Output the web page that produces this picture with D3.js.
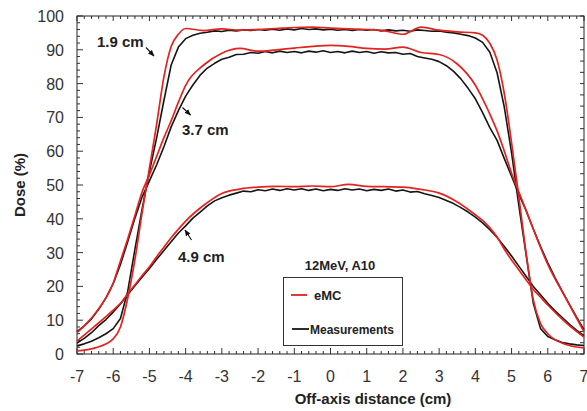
<!DOCTYPE html>
<html>
<head>
<meta charset="utf-8">
<script src="https://cdn.jsdelivr.net/npm/d3@7"></script>
<style>
  html, body { margin: 0; padding: 0; background: #fff; }
  svg { display: block; font-family: "Liberation Sans", Arial, sans-serif; }
</style>
</head>
<body>
<svg id="chart" width="587" height="411"></svg>
<script>
// Off-axis dose profiles, 12 MeV electrons, applicator A10, at three depths.

// Sampling positions (cm) for the smooth eMC (Monte Carlo) profiles
const xEmc = [-7, -6.5, -6, -5.8, -5.6, -5.4, -5.2, -5.0, -4.8, -4.6, -4.4, -4.2, -4.0,
  -3.5, -3, -2.5, -2, -1.5, -1, -0.5, 0, 0.5, 1, 1.5, 2, 2.5, 3, 3.5,
  4.0, 4.2, 4.4, 4.6, 4.8, 5.0, 5.2, 5.4, 5.6, 5.8, 6, 6.5, 7];

const emc19 = [0.9, 1.8, 4.5, 8.0, 16.5, 28, 42, 55, 68, 82, 91, 94.6, 96.3,
  95.7, 96.2, 95.8, 96.0, 96.3, 96.6, 96.7, 96.4, 96.2, 96.0, 95.6, 94.6, 96.7, 95.8, 95.3,
  95.0, 94.3, 91.9, 87, 77, 62.5, 46.5, 30, 16, 9, 6, 2.8, 1.8];

const emc37 = [6.3, 12, 21, 27.5, 34, 41, 48, 53, 58.5, 64, 69, 74.5, 79.5,
  85.5, 89, 90.4, 89.6, 90.0, 90.5, 91.0, 91.3, 91.0, 90.4, 90.2, 90.8, 89.2, 88.6, 85.8,
  79.5, 75.5, 71, 66, 60, 53.5, 48, 42.5, 37, 31.5, 26.5, 16.5, 6.6];

const emc49 = [3.8, 8.3, 13, 15, 17.8, 20.5, 23.2, 25.8, 28.8, 31.6, 34.4, 36.9, 39.3,
  44, 47.5, 48.8, 49.4, 49.6, 49.5, 49.7, 49.5, 50.2, 49.6, 49.5, 49.4, 48.7, 47.6, 45,
  41.2, 39.5, 37.3, 34.6, 31, 27.8, 24.9, 22, 19.1, 16.8, 14.5, 9.3, 5.0];

// Measurement positions (cm), 2 mm spacing
const xMeas = [-7.0, -6.8, -6.6, -6.4, -6.2, -6.0, -5.8, -5.6, -5.4, -5.2, -5.0, -4.8, -4.6, -4.4,
  -4.2, -4.0, -3.8, -3.6, -3.4, -3.2, -3.0, -2.8, -2.6, -2.4, -2.2, -2.0, -1.8, -1.6, -1.4,
  -1.2, -1.0, -0.8, -0.6, -0.4, -0.2, 0.0, 0.2, 0.4, 0.6, 0.8, 1.0, 1.2, 1.4, 1.6, 1.8,
  2.0, 2.2, 2.4, 2.6, 2.8, 3.0, 3.2, 3.4, 3.6, 3.8, 4.0, 4.2, 4.4, 4.6, 4.8, 5.0,
  5.2, 5.4, 5.6, 5.8, 6.0, 6.2, 6.4, 6.6, 6.8, 7.0];

const meas19 = [2.4, 3.0, 3.8, 4.8, 6.0, 7.5, 10.5, 18.5, 31, 43, 54, 64, 75, 85.5,
  90.8, 93.3, 94.3, 94.9, 95.2, 95.6, 95.4, 95.8, 95.6, 95.9, 95.7, 96.0, 95.8, 96.1, 95.8,
  96.2, 95.9, 96.3, 96.0, 96.2, 95.9, 96.1, 95.8, 96.0, 95.7, 96.0, 95.8, 96.0, 95.6, 95.9, 95.6,
  95.8, 95.5, 95.9, 95.7, 95.5, 95.6, 95.2, 95.0, 94.6, 94.2, 93.5, 92.2, 89.3, 83.2, 73, 59.5,
  44, 29.5, 15, 7.5, 5.2, 4.2, 3.4, 3.0, 2.7, 2.5];

const meas37 = [6.6, 8.3, 10.4, 13.2, 16.6, 20.8, 26.5, 33.2, 40.2, 46.5, 51.2, 56.0, 61.3, 67.2,
  72.0, 76.3, 79.6, 82.5, 84.6, 86.0, 87.2, 87.8, 88.6, 88.7, 89.2, 89.0, 89.5, 89.1, 89.6,
  89.2, 89.5, 89.1, 89.6, 89.3, 89.7, 89.2, 89.5, 89.1, 89.6, 89.2, 89.5, 89.0, 89.4, 89.1, 89.2,
  88.7, 88.9, 88.0, 87.6, 87.2, 86.5, 85.3, 83.6, 81.4, 78.6, 75.5, 71.4, 67.0, 63.2, 57.8, 52.6,
  47.3, 42.5, 37.0, 31.8, 27.0, 22.6, 18.5, 14.6, 10.8, 7.2];

const meas49 = [3.2, 4.6, 6.3, 8.4, 10.2, 12.4, 14.8, 17.5, 20.2, 22.8, 25.3, 28.0, 30.6, 33.2,
  35.8, 37.9, 40.2, 42.0, 43.8, 45.3, 46.2, 47.0, 47.6, 48.2, 48.0, 48.6, 48.3, 48.8, 48.4,
  48.9, 48.5, 48.9, 48.4, 48.8, 48.3, 48.7, 48.4, 48.9, 48.5, 48.8, 48.3, 48.7, 48.4, 48.8, 48.2,
  48.5, 47.9, 48.1, 47.4, 46.9, 46.3, 45.4, 44.5, 43.3, 42.0, 40.5, 38.8, 36.8, 34.5, 31.8, 29.0,
  26.0, 23.0, 20.0, 17.5, 15.0, 12.8, 10.8, 8.8, 7.0, 5.4];

const xTicks = [-7, -6, -5, -4, -3, -2, -1, 0, 1, 2, 3, 4, 5, 6, 7];
const yTicks = [0, 10, 20, 30, 40, 50, 60, 70, 80, 90, 100];

const depthLabels = [
  { text: "1.9 cm", x: -7 + 20 / 36.2, y: 91.8 },
];

const svg = d3.select("#chart");
const m = { left: 77, right: 584, top: 16, bottom: 354 };

const x = d3.scaleLinear().domain([-7, 7]).range([m.left, m.right]);
const y = d3.scaleLinear().domain([0, 100]).range([m.bottom, m.top]);
// unlabeled secondary scale used only for the right-hand tick marks
const y2 = d3.scaleLinear().domain([0, 30]).range([m.bottom, m.top]);

const tickColor = "#333";

// Minor ticks
const xMinor = d3.range(-70, 71, 2).map(v => v / 10);
const yMinor = d3.range(0, 101, 2);

function ticksAlong(g, vals, fn) {
  g.selectAll(null).data(vals).enter().append("line").each(function (d) {
    const c = fn(d);
    d3.select(this).attr("x1", c[0]).attr("y1", c[1]).attr("x2", c[2]).attr("y2", c[3]);
  });
}

const gt = svg.append("g").attr("stroke", tickColor).attr("stroke-width", 1);
// bottom (inward)
ticksAlong(gt, xMinor, d => [x(d), m.bottom, x(d), m.bottom - (Math.abs(d - Math.round(d)) < 1e-6 ? 6 : 3)]);
// top (inward)
ticksAlong(gt, xMinor, d => [x(d), m.top, x(d), m.top + (Math.abs(d - Math.round(d)) < 1e-6 ? 5 : 3)]);
// left (inward)
ticksAlong(gt, yMinor, d => [m.left, y(d), m.left + (d % 10 === 0 ? 6 : 3), y(d)]);
// right (inward)
ticksAlong(gt, d3.range(0, 31), d => [m.right, y2(d), m.right - 4, y2(d)]);

// Frame
svg.append("rect")
  .attr("x", m.left).attr("y", m.top)
  .attr("width", m.right - m.left).attr("height", m.bottom - m.top)
  .attr("fill", "none").attr("stroke", "#222").attr("stroke-width", 1);

// Tick labels
svg.append("g").selectAll("text").data(yTicks).enter().append("text")
  .attr("x", 64).attr("y", d => y(d) + 6)
  .attr("text-anchor", "end").attr("font-size", 16).attr("fill", "#333")
  .text(d => d);

svg.append("g").selectAll("text").data(xTicks).enter().append("text")
  .attr("x", d => x(d)).attr("y", 382)
  .attr("text-anchor", "middle").attr("font-size", 16).attr("fill", "#333")
  .text(d => d);

// Axis titles
svg.append("text")
  .attr("x", 373).attr("y", 404)
  .attr("text-anchor", "middle").attr("font-size", 15).attr("font-weight", "bold").attr("fill", "#222")
  .text("Off-axis distance (cm)");

svg.append("text")
  .attr("transform", "translate(25,185) rotate(-90)")
  .attr("text-anchor", "middle").attr("font-size", 15).attr("font-weight", "bold").attr("fill", "#222")
  .text("Dose (%)");

// Profiles
const lineMeas = d3.line().x((d, i) => x(xMeas[i])).y(d => y(d)).curve(d3.curveLinear);
const lineEmc = d3.line().x((d, i) => x(xEmc[i])).y(d => y(d)).curve(d3.curveMonotoneX);

const red = "#e3231f";
const black = "#151515";

[meas19, meas37, meas49].forEach(s => {
  svg.append("path").datum(s).attr("d", lineMeas)
    .attr("fill", "none").attr("stroke", black).attr("stroke-width", 1.6).attr("stroke-linejoin", "round");
});
[emc19, emc37, emc49].forEach(s => {
  svg.append("path").datum(s).attr("d", lineEmc)
    .attr("fill", "none").attr("stroke", red).attr("stroke-width", 1.7);
});

// Depth annotations with small arrows
const defs = svg.append("defs");
defs.append("marker")
  .attr("id", "ah").attr("viewBox", "0 0 10 10").attr("refX", 9).attr("refY", 5)
  .attr("markerWidth", 6).attr("markerHeight", 6).attr("orient", "auto")
  .append("path").attr("d", "M0,1 L10,5 L0,9 Z").attr("fill", "#111");

const notes = [
  { text: "1.9 cm", tx: 97, ty: 47, a: [146, 47.5, 154, 56] },
  { text: "3.7 cm", tx: 182, ty: 135, a: [182.5, 107.5, 190.5, 115] },
  { text: "4.9 cm", tx: 178, ty: 262, a: [191.5, 240, 185, 230] }
];
notes.forEach(n => {
  svg.append("text").attr("x", n.tx).attr("y", n.ty)
    .attr("font-size", 15).attr("font-weight", "bold").attr("fill", "#222").text(n.text);
  svg.append("line")
    .attr("x1", n.a[0]).attr("y1", n.a[1]).attr("x2", n.a[2]).attr("y2", n.a[3])
    .attr("stroke", "#111").attr("stroke-width", 1.1).attr("marker-end", "url(#ah)");
});

// Legend
svg.append("text").attr("x", 340).attr("y", 270)
  .attr("text-anchor", "middle").attr("font-size", 13).attr("font-weight", "bold").attr("fill", "#222")
  .text("12MeV, A10");
svg.append("rect").attr("x", 283.5).attr("y", 277.5).attr("width", 119).attr("height", 68)
  .attr("fill", "#fff").attr("stroke", "#333").attr("stroke-width", 1);
const legendItems = [
  { label: "eMC", color: red, ly: 295, x1: 291, x2: 307, tx: 314, size: 13 },
  { label: "Measurements", color: black, ly: 329, x1: 292, x2: 309, tx: 310, size: 12 }
];
legendItems.forEach(it => {
  svg.append("line").attr("x1", it.x1).attr("x2", it.x2).attr("y1", it.ly).attr("y2", it.ly)
    .attr("stroke", it.color).attr("stroke-width", 1.8);
  svg.append("text").attr("x", it.tx).attr("y", it.ly + 4.5)
    .attr("font-size", it.size).attr("font-weight", "bold").attr("fill", "#222").text(it.label);
});
</script>
</body>
</html>
